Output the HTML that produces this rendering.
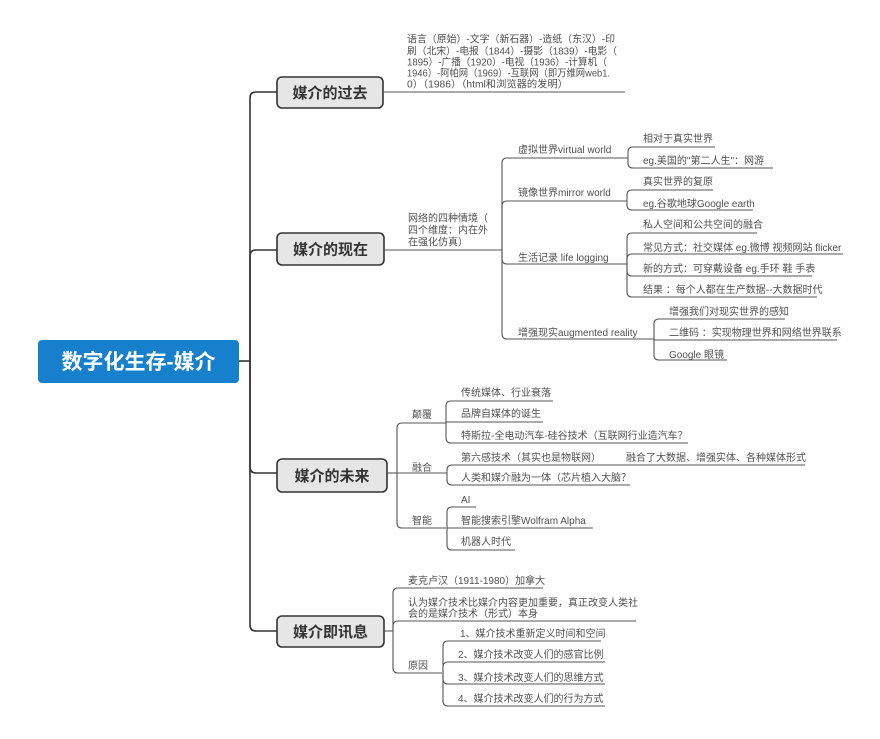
<!DOCTYPE html>
<html><head><meta charset="utf-8">
<style>
html,body{margin:0;padding:0;background:#fff;}
svg{display:block;}
.t{font-family:"Liberation Sans","Noto Sans CJK SC",sans-serif;font-size:10px;fill:#505050;}
.b{font-family:"Liberation Sans","Noto Sans CJK SC",sans-serif;font-size:15px;font-weight:bold;fill:#333;}
.r{font-family:"Liberation Sans","Noto Sans CJK SC",sans-serif;font-size:21px;font-weight:bold;fill:#fff;}
.m{fill:none;stroke:#333;stroke-width:1.6;}
.s{fill:none;stroke:#555;stroke-width:1.1;}
</style></head>
<body>
<svg width="880" height="739" viewBox="0 0 880 739" xmlns="http://www.w3.org/2000/svg">
<rect width="880" height="739" fill="#fff"/>

<!-- trunk -->
<path class="m" d="M239,361 H250"/>
<path class="m" d="M250,361 V98 Q250,92 256,92 H277"/>
<path class="m" d="M250,361 V256 Q250,250 256,250 H277"/>
<path class="m" d="M250,361 V467 Q250,473 256,473 H277"/>
<path class="m" d="M250,361 V625 Q250,631 256,631 H277"/>

<!-- root -->
<rect x="38" y="340" width="201" height="43" rx="4" fill="#1780cd"/>
<text class="r" x="138.5" y="369" text-anchor="middle">数字化生存-媒介</text>

<!-- boxes -->
<rect x="277" y="77" width="106" height="31" rx="5" fill="#e6e6e6" stroke="#333" stroke-width="1.6"/>
<text class="b" x="330" y="98" text-anchor="middle">媒介的过去</text>
<rect x="277" y="233" width="107" height="32" rx="5" fill="#e6e6e6" stroke="#333" stroke-width="1.6"/>
<text class="b" x="330.5" y="254.5" text-anchor="middle">媒介的现在</text>
<rect x="277" y="459" width="110" height="33" rx="5" fill="#e6e6e6" stroke="#333" stroke-width="1.6"/>
<text class="b" x="332" y="481" text-anchor="middle">媒介的未来</text>
<rect x="277" y="616" width="107" height="31" rx="5" fill="#e6e6e6" stroke="#333" stroke-width="1.6"/>
<text class="b" x="330.5" y="637" text-anchor="middle">媒介即讯息</text>

<!-- branch 1 -->
<path class="s" d="M383,92 H625"/>
<text class="t" x="407" y="42.5" textLength="208" lengthAdjust="spacingAndGlyphs">语言（原始）-文字（新石器）-造纸（东汉）-印</text>
<text class="t" x="407" y="54.5" textLength="210" lengthAdjust="spacingAndGlyphs">刷（北宋）-电报（1844）-摄影（1839）-电影（</text>
<text class="t" x="407" y="65.5" textLength="200" lengthAdjust="spacingAndGlyphs">1895）-广播（1920）-电视（1936）-计算机（</text>
<text class="t" x="407" y="76.5" textLength="203" lengthAdjust="spacingAndGlyphs">1946）-阿帕网（1969）-互联网（即万维网web1.</text>
<text class="t" x="407" y="87.5" textLength="161" lengthAdjust="spacingAndGlyphs">0）（1986）（html和浏览器的发明）</text>

<!-- branch 2 -->
<path class="s" d="M384,250 H502"/>
<text class="t" x="408" y="221.5">网络的四种情境（</text>
<text class="t" x="408" y="233.5">四个维度：内在外</text>
<text class="t" x="408" y="245.5">在强化仿真）</text>

<path class="s" d="M502,250 V163 Q502,158 507,158 H628"/>
<path class="s" d="M502,250 V206 Q502,201 507,201 H627"/>
<path class="s" d="M502,250 V259 Q502,264 507,264 H627"/>
<path class="s" d="M502,250 V334 Q502,339 507,339 H654"/>
<text class="t" x="518" y="153">虚拟世界virtual world</text>
<text class="t" x="518" y="196">镜像世界mirror world</text>
<text class="t" x="518" y="261">生活记录 life logging</text>
<text class="t" x="518" y="336">增强现实augmented reality</text>

<path class="s" d="M628,158 V152 Q628,147 633,147 H715"/>
<path class="s" d="M628,158 V163 Q628,168 633,168 H773"/>
<text class="t" x="643" y="142">相对于真实世界</text>
<text class="t" x="643" y="164">eg.美国的"第二人生"：网游</text>

<path class="s" d="M627,201 V195 Q627,190 632,190 H713"/>
<path class="s" d="M627,201 V205 Q627,210 632,210 H753"/>
<text class="t" x="643" y="185">真实世界的复原</text>
<text class="t" x="643" y="207">eg.谷歌地球Google earth</text>

<path class="s" d="M627,264 V238 Q627,233 632,233 H757"/>
<path class="s" d="M627,264 V259 Q627,254 632,254 H843"/>
<path class="s" d="M627,264 V271 Q627,276 632,276 H812"/>
<path class="s" d="M627,264 V292 Q627,297 632,297 H817"/>
<text class="t" x="643" y="228">私人空间和公共空间的融合</text>
<text class="t" x="643" y="251">常见方式：社交媒体 eg.微博 视频网站 flicker</text>
<text class="t" x="643" y="272">新的方式：可穿戴设备 eg.手环 鞋 手表</text>
<text class="t" x="643" y="293">结果 ：每个人都在生产数据--大数据时代</text>

<path class="s" d="M654,339 V324 Q654,319 659,319 H785"/>
<path class="s" d="M654,339 V340 H837"/>
<path class="s" d="M654,339 V355 Q654,360 659,360 H727"/>
<text class="t" x="669" y="315">增强我们对现实世界的感知</text>
<text class="t" x="669" y="336">二维码 ：实现物理世界和网络世界联系</text>
<text class="t" x="669" y="358">Google 眼镜</text>

<!-- branch 3 -->
<path class="s" d="M387,473 H397"/>
<path class="s" d="M397,473 V428 Q397,423 402,423 H446"/>
<path class="s" d="M397,473 H447"/>
<path class="s" d="M397,473 V523 Q397,528 402,528 H446"/>
<text class="t" x="412" y="418">颠覆</text>
<text class="t" x="412" y="471">融合</text>
<text class="t" x="412" y="524">智能</text>

<path class="s" d="M446,423 V406 Q446,401 451,401 H553"/>
<path class="s" d="M446,423 V422 H543"/>
<path class="s" d="M446,423 V438 Q446,443 451,443 H688"/>
<text class="t" x="461" y="396">传统媒体、行业衰落</text>
<text class="t" x="461" y="417">品牌自媒体的诞生</text>
<text class="t" x="461" y="439">特斯拉-全电动汽车-硅谷技术（互联网行业造汽车？</text>

<path class="s" d="M447,473 V470 Q447,465 452,465 H805"/>
<path class="s" d="M447,473 V480 Q447,485 452,485 H630"/>
<text class="t" x="461" y="461">第六感技术（其实也是物联网）</text>
<text class="t" x="626" y="461">融合了大数据、增强实体、各种媒体形式</text>
<text class="t" x="461" y="481">人类和媒介融为一体（芯片植入大脑？</text>

<path class="s" d="M447,528 V512 Q447,507 452,507 H476"/>
<path class="s" d="M447,528 H593"/>
<path class="s" d="M447,528 V545 Q447,550 452,550 H515"/>
<text class="t" x="461" y="503">AI</text>
<text class="t" x="461" y="524">智能搜索引擎Wolfram Alpha</text>
<text class="t" x="461" y="545">机器人时代</text>

<!-- branch 4 -->
<path class="s" d="M384,631 H393"/>
<path class="s" d="M393,631 V593 Q393,588 398,588 H543"/>
<path class="s" d="M393,631 V626 Q393,621 398,621 H636"/>
<path class="s" d="M393,631 V668 Q393,673 398,673 H442"/>
<text class="t" x="408" y="584">麦克卢汉（1911-1980）加拿大</text>
<text class="t" x="408" y="606">认为媒介技术比媒介内容更加重要，真正改变人类社</text>
<text class="t" x="408" y="617">会的是媒介技术（形式）本身</text>
<text class="t" x="408" y="669">原因</text>

<path class="s" d="M443,673 V646 Q443,641 448,641 H601"/>
<path class="s" d="M443,673 V667 Q443,662 448,662 H605"/>
<path class="s" d="M443,673 V679 Q443,684 448,684 H605"/>
<path class="s" d="M443,673 V701 Q443,706 448,706 H605"/>
<text class="t" x="460" y="637">1、媒介技术重新定义时间和空间</text>
<text class="t" x="458" y="658">2、媒介技术改变人们的感官比例</text>
<text class="t" x="458" y="681">3、媒介技术改变人们的思维方式</text>
<text class="t" x="458" y="702">4、媒介技术改变人们的行为方式</text>
</svg>
</body></html>
